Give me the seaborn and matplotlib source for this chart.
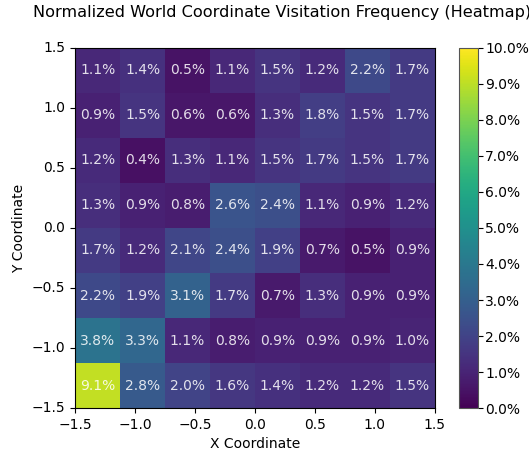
import numpy as np
import pandas as pd
import matplotlib
matplotlib.use("Agg")
import matplotlib.pyplot as plt
import seaborn as sns
from matplotlib.ticker import FuncFormatter

# Rows listed top (y=1.5) to bottom (y=-1.5), columns left (x=-1.5) to right (x=1.5)
row1 = [1.1, 1.4, 0.5, 1.1, 1.5, 1.2, 2.2, 1.7]
row2 = [0.9, 1.5, 0.6, 0.6, 1.3, 1.8, 1.5, 1.7]
row3 = [1.2, 0.4, 1.3, 1.1, 1.5, 1.7, 1.5, 1.7]
row4 = [1.3, 0.9, 0.8, 2.6, 2.4, 1.1, 0.9, 1.2]
row5 = [1.7, 1.2, 2.1, 2.4, 1.9, 0.7, 0.5, 0.9]
row6 = [2.2, 1.9, 3.1, 1.7, 0.7, 1.3, 0.9, 0.9]
row7 = [3.8, 3.3, 1.1, 0.8, 0.9, 0.9, 0.9, 1.0]
row8 = [9.1, 2.8, 2.0, 1.6, 1.4, 1.2, 1.2, 1.5]
x_ticks = [-1.5, -1.0, -0.5, 0.0, 0.5, 1.0, 1.5]
y_ticks = [-1.5, -1.0, -0.5, 0.0, 0.5, 1.0, 1.5]
cbar_ticks = [0, 1, 2, 3, 4, 5, 6, 7, 8, 9, 10]

data = np.array([row1, row2, row3, row4, row5, row6, row7, row8])
labels = np.array([[f"{v:.1f}%" for v in r] for r in data])
n = data.shape[0]
lo, hi = -1.5, 1.5

fig = plt.figure(figsize=(5.29, 4.55), dpi=100)
ax = fig.add_axes([0.142, 0.103, 0.680, 0.792])
cax = fig.add_axes([0.868, 0.103, 0.035, 0.792])

sns.heatmap(data, ax=ax, cbar_ax=cax, cmap="viridis", vmin=0, vmax=10,
            annot=labels, fmt="", square=False,
            annot_kws={"color": "white", "alpha": 0.85, "fontsize": 10})

def to_pos(v):
    return (v - lo) / (hi - lo) * n

ax.set_xticks([to_pos(v) for v in x_ticks])
ax.set_xticklabels([f"{v:.1f}".replace("-", "\u2212") for v in x_ticks], rotation=0)
ax.set_yticks([n - to_pos(v) for v in y_ticks])
ax.set_yticklabels([f"{v:.1f}".replace("-", "\u2212") for v in y_ticks], rotation=0)
ax.tick_params(length=3.5, width=0.8, labelsize=10)
for s in ax.spines.values():
    s.set_visible(True)
    s.set_color("black")
    s.set_linewidth(0.8)
ax.set_xlabel("X Coordinate", fontsize=10)
ax.set_ylabel("Y Coordinate", fontsize=10)
fig.text(33 / 529, 1 - 17 / 455, "Normalized World Coordinate Visitation Frequency (Heatmap)",
         fontsize=11.6, ha="left", va="baseline")

cb = ax.collections[0].colorbar
cb.set_ticks(cbar_ticks)
cb.ax.yaxis.set_major_formatter(FuncFormatter(lambda v, p: f"{v:.1f}%"))
cb.outline.set_linewidth(0.8)
cb.outline.set_edgecolor("#555555")
cb.ax.tick_params(length=3.5, width=0.8, labelsize=10, pad=2)

fig.savefig("out.png", dpi=100)
